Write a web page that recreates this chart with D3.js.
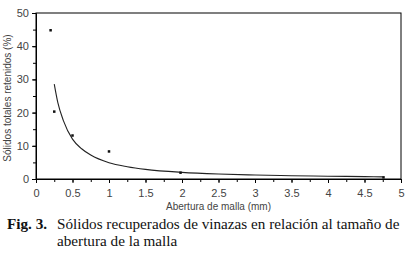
<!DOCTYPE html>
<html>
<head>
<meta charset="utf-8">
<script src="https://cdnjs.cloudflare.com/ajax/libs/d3/7.8.5/d3.min.js"></script>
<style>
  body { margin: 0; background: #fff; }
  svg { display: block; }
  .tick text { font-family: "Liberation Sans", Arial, sans-serif; font-size: 11px; fill: #444; }
  .axis-label { font-family: "Liberation Sans", Arial, sans-serif; font-size: 10px; fill: #444; }
  .caption { font-family: "Liberation Serif", "Times New Roman", serif; font-size: 15.2px; fill: #111; }
</style>
</head>
<body>
<svg id="chart" width="411" height="254"></svg>
<script>
// measured points (mesh opening in mm, retained solids in %)
const pointX = [0.2, 0.25, 0.5, 1.0, 1.98, 4.76];
const pointY = [44.8, 20.3, 13.1, 8.3, 1.9, 0.5];

// fitted curve
const curveX = [0.25, 0.3, 0.375, 0.5, 0.625, 0.75, 1, 1.25, 1.5, 2, 2.5, 3, 3.5, 4, 4.5, 4.75];
const curveY = [28.6, 22.9, 17.6, 12.0, 9.1, 7.2, 4.9, 3.7, 2.9, 2.0, 1.5, 1.2, 1.0, 0.85, 0.72, 0.65];

const xTicks = [0, 0.5, 1, 1.5, 2, 2.5, 3, 3.5, 4, 4.5, 5];
const yTicks = [0, 10, 20, 30, 40, 50];

const margin = { top: 13, left: 36, right: 10, bottom: 75 };
const width = 411 - margin.left - margin.right;
const height = 254 - margin.top - margin.bottom;

const svg = d3.select("#chart");
const chart = svg.append("g")
  .attr("transform", `translate(${margin.left},${margin.top})`);

const x = d3.scaleLinear().domain([0, 5]).range([0, width]);
const y = d3.scaleLinear().domain([0, 50]).range([height, 0]);

// minor ticks first so the major ones sit on top
chart.append("g")
  .attr("transform", `translate(0,${height})`)
  .call(d3.axisBottom(x).tickValues(d3.range(0, 5.01, 0.25)).tickSize(3).tickFormat(""))
  .call(g => g.select(".domain").remove());
chart.append("g")
  .call(d3.axisLeft(y).tickValues(d3.range(0, 50.1, 5)).tickSize(3).tickFormat(""))
  .call(g => g.select(".domain").remove());

const xAxisG = chart.append("g")
  .attr("transform", `translate(0,${height})`)
  .call(d3.axisBottom(x).tickValues(xTicks).tickSize(4).tickPadding(6).tickFormat(d3.format("")));
const yAxisG = chart.append("g")
  .call(d3.axisLeft(y).tickValues(yTicks).tickSize(4).tickPadding(3));

chart.selectAll(".tick line").attr("stroke", "#000");
chart.selectAll(".domain").attr("stroke", "#000");

// box around the plot
chart.append("rect")
  .attr("width", width)
  .attr("height", height)
  .attr("fill", "none")
  .attr("stroke", "#000")
  .attr("stroke-width", 1);

// fitted curve
const curve = curveX.map((d, i) => [d, curveY[i]]);
chart.append("path")
  .datum(curve)
  .attr("fill", "none")
  .attr("stroke", "#222")
  .attr("stroke-width", 1.1)
  .attr("d", d3.line().x(d => x(d[0])).y(d => y(d[1])).curve(d3.curveMonotoneX));

// points
chart.selectAll(".pt")
  .data(pointX.map((d, i) => [d, pointY[i]]))
  .join("rect")
    .attr("class", "pt")
    .attr("x", d => x(d[0]) - 1.25)
    .attr("y", d => y(d[1]) - 1.25)
    .attr("width", 2.5)
    .attr("height", 2.5)
    .attr("fill", "#111");

// axis labels
chart.append("text")
  .attr("class", "axis-label")
  .attr("x", width / 2)
  .attr("y", height + 31)
  .attr("text-anchor", "middle")
  .text("Abertura de malla (mm)");

chart.append("text")
  .attr("class", "axis-label")
  .attr("transform", "rotate(-90)")
  .attr("x", -height / 2 - 2)
  .attr("y", -25)
  .attr("text-anchor", "middle")
  .text("Sólidos totales retenidos (%)");

// caption
const cap = svg.append("text").attr("class", "caption").attr("x", 7).attr("y", 229);
cap.append("tspan").attr("font-weight", "bold").text("Fig. 3.");
cap.append("tspan").attr("x", 57).text("Sólidos recuperados de vinazas en relación al tamaño de");
svg.append("text").attr("class", "caption").attr("x", 57).attr("y", 246)
  .text("abertura de la malla");
</script>
</body>
</html>
